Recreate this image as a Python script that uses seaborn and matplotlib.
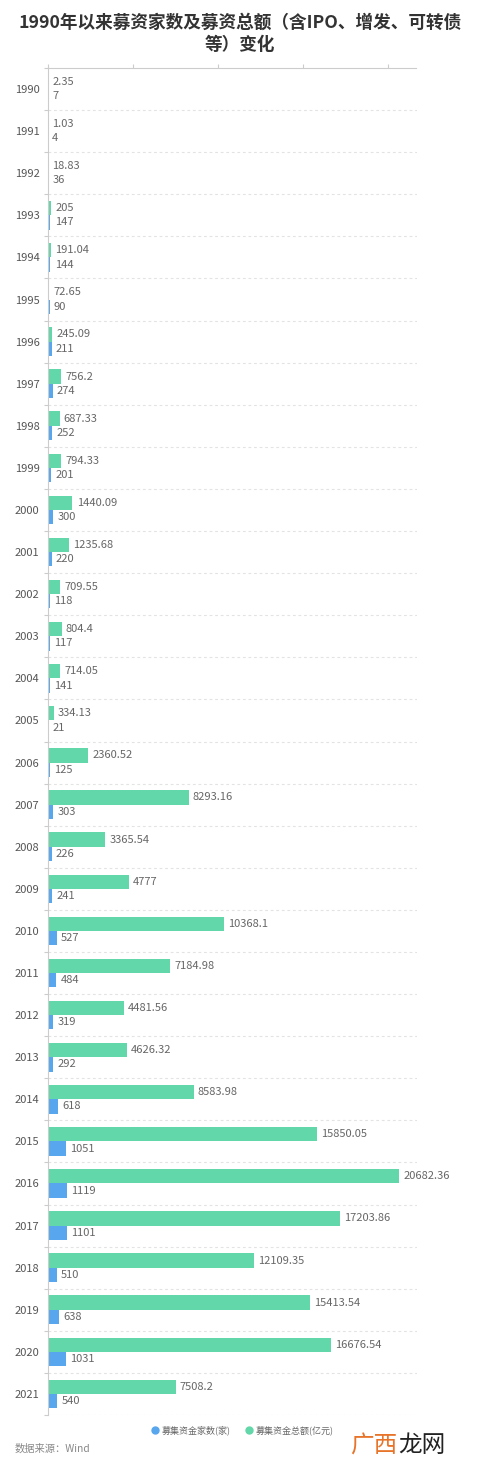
import matplotlib
matplotlib.use("Agg")
import matplotlib.pyplot as plt
from matplotlib.lines import Line2D
import seaborn as sns
import pandas as pd
import numpy as np

years = [str(y) for y in range(1990, 2022)]
total_amount = [2.35, 1.03, 18.83, 205, 191.04, 72.65, 245.09, 756.2, 687.33, 794.33,
                1440.09, 1235.68, 709.55, 804.4, 714.05, 334.13, 2360.52, 8293.16, 3365.54, 4777,
                10368.1, 7184.98, 4481.56, 4626.32, 8583.98, 15850.05, 20682.36, 17203.86, 12109.35,
                15413.54, 16676.54, 7508.2]
company_count = [7, 4, 36, 147, 144, 90, 211, 274, 252, 201, 300, 220, 118, 117, 141, 21, 125,
                 303, 226, 241, 527, 484, 319, 292, 618, 1051, 1119, 1101, 510, 638, 1031, 540]
series_names = ["募集资金家数(家)", "募集资金总额(亿元)"]
title_lines = ["1990年以来募资家数及募资总额（含IPO、增发、可转债", "等）变化"]
source_text = "数据来源：Wind"

BLUE = "#58A6EE"
GREEN = "#62D7AA"

sns.set_theme(style="white")
plt.rcParams["font.family"] = ["Noto Sans CJK SC", "DejaVu Sans"]

df = pd.DataFrame({
    "year": years * 2,
    "value": total_amount + company_count,
    "series": [series_names[1]] * len(years) + [series_names[0]] * len(years),
})

fig = plt.figure(figsize=(4.8, 14.72), dpi=100)
ax = fig.add_axes([48 / 480, 1 - 1415 / 1472, (416.5 - 48) / 480, (1415 - 68) / 1472])

sns.barplot(data=df, y="year", x="value", hue="series", order=years,
            hue_order=[series_names[1], series_names[0]],
            palette=[GREEN, BLUE], orient="h", width=0.68, ax=ax,
            legend=False, saturation=1, edgecolor="none")

def fmt(v):
    s = f"{v:.2f}".rstrip("0").rstrip(".")
    return s

for cont, vals in zip(ax.containers, [total_amount, company_count]):
    ax.bar_label(cont, labels=[fmt(v) for v in vals], padding=3, fontsize=8, color="#666666")

ax.set_xlim(0, 21700)
ax.set_ylim(len(years) - 0.5, -0.5)
ax.set_xlabel("")
ax.set_ylabel("")

# axes styling
ax.xaxis.tick_top()
ax.set_xticks([0, 5000, 10000, 15000, 20000])
ax.tick_params(axis="x", which="major", top=True, bottom=False, labeltop=False, labelbottom=False,
               length=3, width=0.8, color="#cccccc", direction="out")
ax.tick_params(axis="y", which="major", length=0, pad=6, labelsize=8, labelcolor="#555555")
ax.set_yticks(np.arange(-0.5, len(years), 1.0), minor=True)
ax.tick_params(axis="y", which="minor", length=3, width=0.8, color="#cccccc", left=True)
for side in ["bottom", "right"]:
    ax.spines[side].set_visible(False)
for side in ["top", "left"]:
    ax.spines[side].set_color("#cccccc")
    ax.spines[side].set_linewidth(0.8)

for b in np.arange(0.5, len(years), 1.0):
    ax.axhline(b, color="#e3e3e3", lw=0.8, ls=(0, (2.5, 2.5)), zorder=0)

# title
fig.text(0.5, 1 - 23 / 1472, title_lines[0], ha="center", va="center", fontsize=12.7,
         fontweight="bold", color="#333333")
fig.text(0.5, 1 - 45 / 1472, title_lines[1], ha="center", va="center", fontsize=12.7,
         fontweight="bold", color="#333333")

# legend
handles = [Line2D([0], [0], marker="o", color="none", markerfacecolor=BLUE, markeredgecolor=BLUE,
                  markersize=5),
           Line2D([0], [0], marker="o", color="none", markerfacecolor=GREEN, markeredgecolor=GREEN,
                  markersize=5)]
fig.legend(handles, series_names, loc="center", bbox_to_anchor=(242 / 480, 1 - 1430 / 1472),
           ncol=2, frameon=False, fontsize=6.5, labelcolor="#666666", handletextpad=0.2,
           columnspacing=1.6, handlelength=1.0)

fig.text(15 / 480, 1 - 1449 / 1472, source_text, ha="left", va="center", fontsize=7.4,
         color="#888888")

# watermark
fig.text(350 / 480, 1 - 1446 / 1472, "广西", ha="left", va="center", fontsize=17, color="#E8742A")
fig.text(398 / 480, 1 - 1446 / 1472, "龙网", ha="left", va="center", fontsize=17, color="#222222")

fig.savefig("out.png", dpi=100)
